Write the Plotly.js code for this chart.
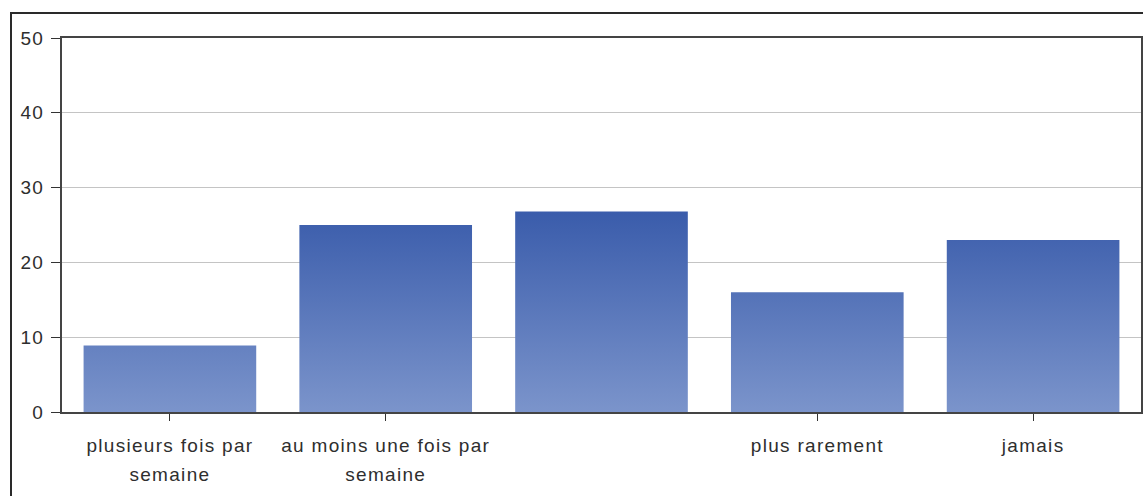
<!DOCTYPE html>
<html>
<head>
<meta charset="utf-8">
<script src="https://cdn.plot.ly/plotly-3.0.1.min.js"></script>
<style>
  html, body { margin: 0; padding: 0; background: #ffffff; }
  #chart { width: 1143px; height: 496px; }
  .xtick text, .ytick text { letter-spacing: 1.3px; }
</style>
</head>
<body>
<div id="chart"></div>
<script>
// ---- data ----
var categories = ['plusieurs fois par semaine', 'au moins une fois par semaine', '', 'plus rarement', 'jamais'];
var tickLabels = ['plusieurs fois par<br>semaine', 'au moins une fois par<br>semaine', '', 'plus rarement', 'jamais'];
var values = [8.9, 25, 26.8, 16, 23];
var yTickValues = [0, 10, 20, 30, 40, 50];

// ---- build ----
var xPos = categories.map(function (c, i) { return i; });
var tickVals = [], tickText = [];
tickLabels.forEach(function (t, i) { if (t !== '') { tickVals.push(i); tickText.push(t); } });

var M = { l: 62, r: 2, t: 38, b: 84 };
var W = 1143, H = 496;
var pw = W - M.l - M.r, ph = H - M.t - M.b;
function px2x(p) { return (p - M.l) / pw; }
function px2y(p) { return (H - M.b - p) / ph; }

var trace = {
  type: 'bar',
  x: xPos,
  y: values,
  width: 0.8,
  marker: { color: '#5b77ba', line: { width: 0 } },
  hoverinfo: 'none'
};

var font = { family: '"Liberation Sans", Arial, sans-serif', size: 19, color: '#2e2e2e' };

var layout = {
  width: W, height: H,
  margin: M,
  paper_bgcolor: '#ffffff',
  plot_bgcolor: '#ffffff',
  showlegend: false,
  font: font,
  bargap: 0.2,
  xaxis: {
    range: [-0.5, categories.length - 0.5],
    tickmode: 'array',
    tickvals: tickVals,
    ticktext: tickText,
    ticks: 'outside', ticklen: 7, tickwidth: 1, tickcolor: '#333333',
    showline: true, linecolor: '#444444', linewidth: 2, mirror: true,
    showgrid: false, zeroline: false,
    tickfont: font,
    ticklabelstandoff: 8,
    fixedrange: true
  },
  yaxis: {
    range: [0, 50],
    tickmode: 'array',
    tickvals: yTickValues,
    ticktext: yTickValues.map(String),
    ticks: 'outside', ticklen: 9, tickwidth: 1, tickcolor: '#333333',
    showline: true, linecolor: '#444444', linewidth: 2, mirror: true,
    showgrid: true, gridcolor: '#c4c4c4', gridwidth: 1,
    zeroline: false,
    tickfont: font,
    ticklabelstandoff: 3,
    fixedrange: true
  },
  shapes: [
    { type: 'path', xref: 'paper', yref: 'paper',
      path: 'M ' + px2x(11) + ' ' + px2y(H + 5) + ' L ' + px2x(11) + ' ' + px2y(13) +
            ' L ' + px2x(W + 5) + ' ' + px2y(13),
      line: { color: '#2a2a2a', width: 2 } }
  ]
};

Plotly.newPlot('chart', [trace], layout, { displayModeBar: false, staticPlot: true }).then(function (gd) {
  var ya = gd._fullLayout.yaxis;
  var maxV = Math.max.apply(null, values);
  var svgNS = 'http://www.w3.org/2000/svg';
  var defs = gd.querySelector('.main-svg defs');
  var g = document.createElementNS(svgNS, 'linearGradient');
  g.setAttribute('id', 'barGrad');
  g.setAttribute('gradientUnits', 'userSpaceOnUse');
  g.setAttribute('x1', 0); g.setAttribute('x2', 0);
  g.setAttribute('y1', ya.l2p(0));
  g.setAttribute('y2', ya.l2p(maxV));
  [['0', '#7b94cb'], ['1', '#3a5cab']].forEach(function (s) {
    var st = document.createElementNS(svgNS, 'stop');
    st.setAttribute('offset', s[0]);
    st.setAttribute('stop-color', s[1]);
    g.appendChild(st);
  });
  defs.appendChild(g);
  gd.querySelectorAll('.bars .point path').forEach(function (p) {
    p.style.fill = 'url(#barGrad)';
  });
  // widen the spacing between the two lines of the category labels
  gd.querySelectorAll('.xtick text tspan.line').forEach(function (t, i) {
    var dy = t.getAttribute('dy');
    if (dy && parseFloat(dy) > 0) t.setAttribute('dy', '1.55em');
  });
});
</script>
</body>
</html>
